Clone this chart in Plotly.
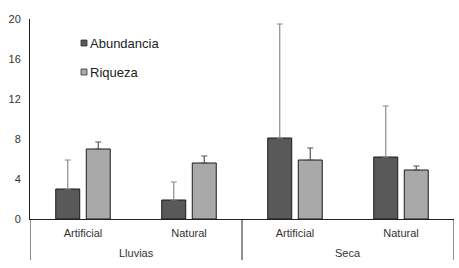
import plotly.graph_objects as go

season = ["Lluvias", "Lluvias", "Seca", "Seca"]
site = ["Artificial", "Natural", "Artificial", "Natural"]
abundancia = [3.0, 1.9, 8.1, 6.2]
abundancia_err = [2.9, 1.8, 11.4, 5.1]
riqueza = [7.0, 5.6, 5.9, 4.9]
riqueza_err = [0.7, 0.7, 1.2, 0.4]
yticks = [0, 4, 8, 12, 16, 20]
series_names = ["Abundancia", "Riqueza"]
series_colors = ["#595959", "#a9a9a9"]

idx = list(range(len(site)))

fig = go.Figure()
fig.add_trace(go.Bar(
    x=idx, y=abundancia, name=series_names[0], showlegend=False,
    marker=dict(color=series_colors[0], line=dict(color="#1a1a1a", width=1)),
    error_y=dict(type="data", array=abundancia_err, symmetric=False, arrayminus=[0]*4,
                 color="#8c8c8c", thickness=1.2, width=3),
))
fig.add_trace(go.Bar(
    x=idx, y=riqueza, name=series_names[1], showlegend=False,
    marker=dict(color=series_colors[1], line=dict(color="#1a1a1a", width=1)),
    error_y=dict(type="data", array=riqueza_err, symmetric=False, arrayminus=[0]*4,
                 color="#555555", thickness=1.2, width=3),
))

H = 268 - 19 - 49
W = 459 - 30 - 5

# outer category row (season) with dividers
groups = []
for i, s in enumerate(season):
    if not groups or groups[-1][0] != s:
        groups.append([s, i, i])
    else:
        groups[-1][2] = i
bounds = sorted({g[1] - 0.5 for g in groups} | {g[2] + 0.5 for g in groups})
for b in bounds:
    fig.add_shape(type="line", xref="x", yref="paper", x0=b, x1=b,
                  y0=0, y1=-41 / H, line=dict(color="#222222", width=1))
for s, i0, i1 in groups:
    fig.add_annotation(xref="x", yref="paper", x=(i0 + i1) / 2, y=-34 / H,
                       yanchor="middle", showarrow=False, text=s,
                       font=dict(size=11, color="#333333"))

# custom legend (swatches + labels) placed like the original
legend_rows_y = [43, 72]
for name, col, py in zip(series_names, series_colors, legend_rows_y):
    yc = 1 - (py - 19) / H
    fig.add_shape(type="rect", xref="paper", yref="paper",
                  x0=(81 - 30) / W, x1=(87 - 30) / W, y0=yc - 3 / H, y1=yc + 3 / H,
                  fillcolor=col, line=dict(color="#333333", width=0.8))
    fig.add_annotation(xref="paper", yref="paper", x=(88 - 30) / W, y=yc,
                       xanchor="left", yanchor="middle", showarrow=False,
                       text=name, font=dict(size=13, color="#222222"))

fig.update_layout(
    width=459, height=268,
    margin=dict(l=30, r=5, t=19, b=49, autoexpand=False),
    paper_bgcolor="white", plot_bgcolor="white",
    barmode="group", bargap=0.424, bargroupgap=0.214,
    font=dict(family="Liberation Sans, Arial, sans-serif", size=11, color="#333333"),
    showlegend=False,
    xaxis=dict(range=[-0.5, len(site) - 0.5], tickvals=idx, ticktext=site,
               showline=True, linecolor="#222222", linewidth=1, ticks="",
               showgrid=False, zeroline=False, automargin=False, ticklabelstandoff=4,
               tickfont=dict(size=11, color="#333333")),
    yaxis=dict(range=[0, 20], tickvals=yticks, showgrid=False, zeroline=False,
               showline=True, linecolor="#222222", linewidth=1, ticks="",
               automargin=False, ticklabelstandoff=6,
               tickfont=dict(size=11, color="#333333")),
)

fig.write_html("out.html", post_script="document.body.style.margin='0';",
               config={"displayModeBar": False})
